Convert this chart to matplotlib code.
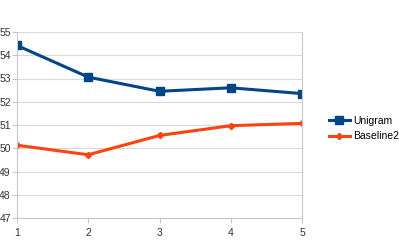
import matplotlib.pyplot as plt

plt.rcParams['font.family'] = ['Liberation Sans', 'DejaVu Sans']

x = [1, 2, 3, 4, 5]
unigram = [54.42, 53.06, 52.45, 52.6, 52.35]
baseline2 = [50.13, 49.72, 50.55, 50.97, 51.07]
yticks = [47, 48, 49, 50, 51, 52, 53, 54, 55]

fig = plt.figure(figsize=(3.99, 2.5), dpi=100)
ax = fig.add_axes([17 / 399, 32 / 250, 285 / 399, 186 / 250])

ax.plot(x, unigram, color='#004586', lw=2.2, marker='s', ms=5.5, label='Unigram')
ax.plot(x, baseline2, color='#ff420e', lw=2.2, marker='D', ms=3.2, label='Baseline2')

ax.set_xlim(1, 5)
ax.set_ylim(47, 55)
ax.set_xticks(x)
ax.set_yticks(yticks)
ax.grid(axis='y', color='#d9d9d9', lw=0.8)
ax.set_axisbelow(True)
for side in ['left', 'right', 'bottom']:
    ax.spines[side].set_color('#c8c8c8')
    ax.spines[side].set_linewidth(0.8)
ax.spines['top'].set_visible(False)
ax.tick_params(axis='both', labelsize=7.5, colors='#c8c8c8', labelcolor='#333333',
               length=3.5, width=0.8)
ax.tick_params(axis='x', pad=4)
ax.tick_params(axis='y', pad=1)

ax.legend(loc='center left', bbox_to_anchor=(1.08, 0.48), frameon=False,
          fontsize=7.5, handlelength=2.0, handletextpad=0.3, labelspacing=0.5,
          borderaxespad=0)

fig.savefig('out.png', dpi=100)
